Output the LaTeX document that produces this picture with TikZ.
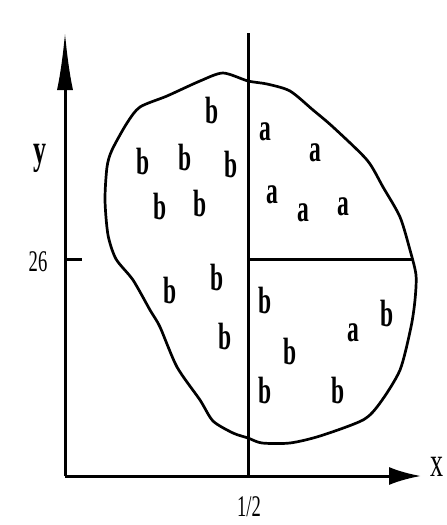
\documentclass[tikz,border=0pt]{standalone}
\usepackage{graphicx}
\usepackage{fontspec}
\setmainfont{Liberation Serif}
\usetikzlibrary{arrows.meta}
\newcommand{\nx}[1]{\scalebox{0.62}[1]{#1}}
\tikzset{
  lab/.style={inner sep=0pt, font=\fontsize{38}{38}\selectfont\bfseries},
  axlab/.style={inner sep=0pt, font=\fontsize{30}{30}\selectfont},
  thick line/.style={line width=3pt},
  blobline/.style={line width=2.7pt},
}
\begin{document}
\begin{tikzpicture}[x=1pt,y=-1pt]
\useasboundingbox (0,0) rectangle (447,525);
% axes coordinates
\coordinate (O) at (65,476);
\coordinate (Ytop) at (65,32);
\coordinate (Xend) at (421,476);
\coordinate (Vtop) at (248,33);
\coordinate (Vbot) at (248,476);
\coordinate (Hl) at (248,259);
\coordinate (Hr) at (413,259);
\coordinate (Tl) at (65,259);
\coordinate (Tr) at (82,259);
% blob
\draw[blobline] plot[smooth cycle, tension=0.45] coordinates {
 (223,73) (248,81) (267,84) (290,91) (313,110) (333,127) (367,160) (383,187)
 (400,217) (410,250) (416,275) (415,300) (411,327) (400,370) (380,403) (363,420)
 (320,436) (290,443) (262,443) (248,438) (233,433) (213,421) (200,400) (177,367)
 (160,327) (150,310) (133,280) (116,259) (108,235) (105,200) (107,167) (112,150)
 (127,123) (140,107) (167,96) (200,81)};
% lines
\draw[thick line] (Vtop) -- (Vbot);
\draw[thick line] (Hl) -- (Hr);
\draw[thick line] (Tl) -- (Tr);
\draw[thick line, -{Latex[length=58pt,width=16pt]}] (O) -- (Ytop);
\draw[thick line, -{Latex[length=32pt,width=18pt]}] (O) -- (Xend);
% axis labels
\node[axlab] (ylab) at (40,158) {\nx{\fontsize{42}{42}\selectfont\bfseries y}};
\node[axlab] (xlab) at (437,467) {\nx{\fontsize{42}{42}\selectfont x}};
\node[axlab] (l26) at (38,262) {\nx{26}};
\node[axlab] (lhalf) at (249,507) {\nx{1/2}};
% letters
\node[lab] (b1) at (212,110) {\nx{b}};
\node[lab] (a1) at (265,132) {\nx{a}};
\node[lab] (a2) at (315,153) {\nx{a}};
\node[lab] (b2) at (143,161) {\nx{b}};
\node[lab] (b3) at (185,157) {\nx{b}};
\node[lab] (b4) at (231,164) {\nx{b}};
\node[lab] (a3) at (272,195) {\nx{a}};
\node[lab] (b5) at (160,206) {\nx{b}};
\node[lab] (b6) at (200,203) {\nx{b}};
\node[lab] (a4) at (303,213) {\nx{a}};
\node[lab] (a5) at (343,207) {\nx{a}};
\node[lab] (b7) at (170,290) {\nx{b}};
\node[lab] (b8) at (217,277) {\nx{b}};
\node[lab] (b9) at (265,300) {\nx{b}};
\node[lab] (b10) at (387,313) {\nx{b}};
\node[lab] (a6) at (353,333) {\nx{a}};
\node[lab] (b11) at (225,336) {\nx{b}};
\node[lab] (b12) at (290,351) {\nx{b}};
\node[lab] (b13) at (265,390) {\nx{b}};
\node[lab] (b14) at (338,390) {\nx{b}};
\end{tikzpicture}
\end{document}
